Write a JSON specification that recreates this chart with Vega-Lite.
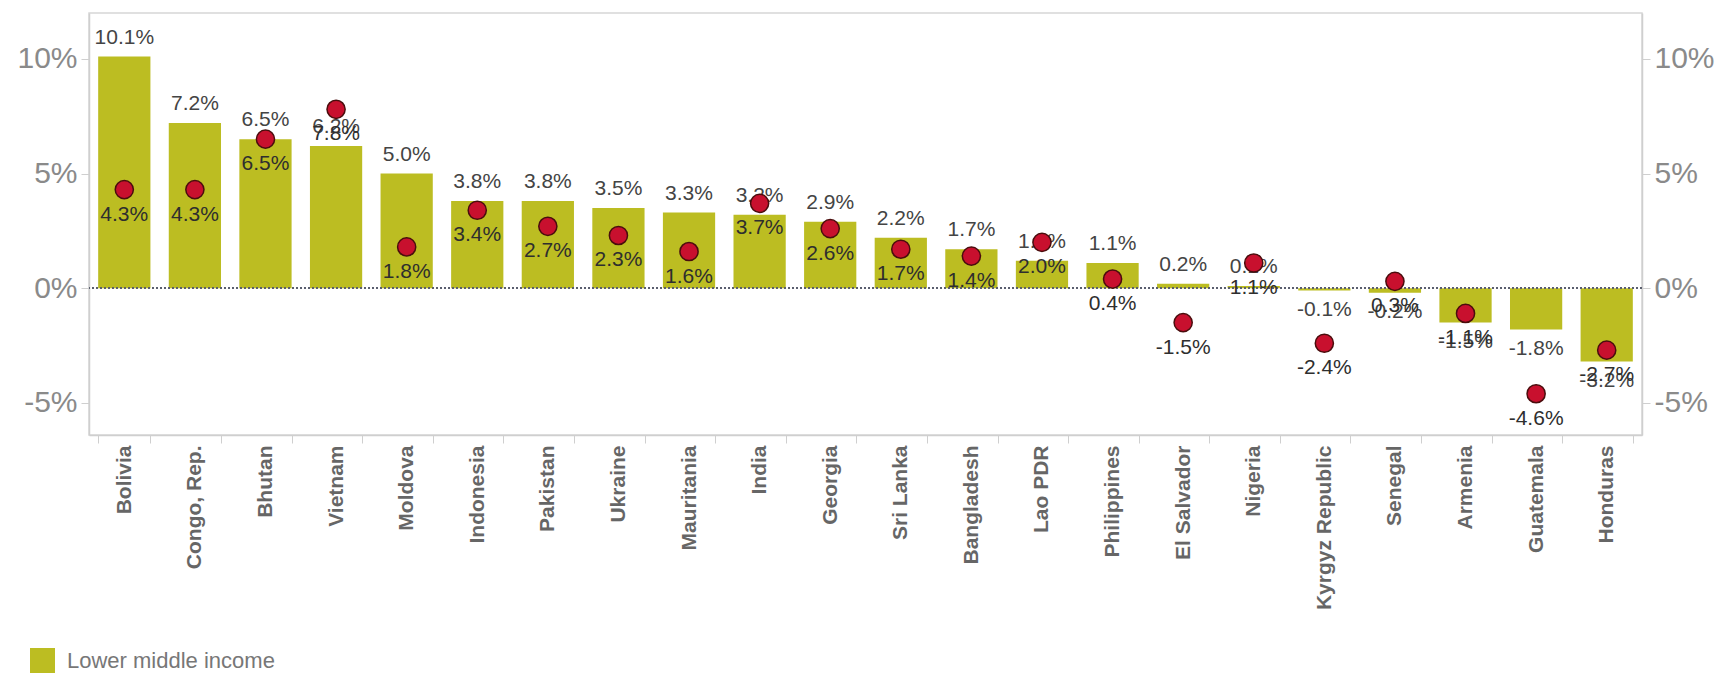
{
  "$schema": "https://vega.github.io/schema/vega-lite/v6.json",
  "width": 1553,
  "height": 422,
  "autosize": {"type": "none"},
  "padding": {"left": 89, "top": 13, "right": 82, "bottom": 239},
  "config": {
    "font": "Liberation Sans",
    "view": {"stroke": "#d6d6d6", "strokeWidth": 1.5},
    "locale": {"number": {"decimal": ".", "thousands": ",", "grouping": [3], "currency": ["$", ""], "minus": "-"}},
    "axis": {"grid": false, "title": null}
  },
  "data": {
    "values": [
      {"country": "Bolivia", "bar": 0.101, "dot": 0.043, "group": "Lower middle income"},
      {"country": "Congo, Rep.", "bar": 0.072, "dot": 0.043, "group": "Lower middle income"},
      {"country": "Bhutan", "bar": 0.065, "dot": 0.065, "group": "Lower middle income"},
      {"country": "Vietnam", "bar": 0.062, "dot": 0.078, "group": "Lower middle income"},
      {"country": "Moldova", "bar": 0.050, "dot": 0.018, "group": "Lower middle income"},
      {"country": "Indonesia", "bar": 0.038, "dot": 0.034, "group": "Lower middle income"},
      {"country": "Pakistan", "bar": 0.038, "dot": 0.027, "group": "Lower middle income"},
      {"country": "Ukraine", "bar": 0.035, "dot": 0.023, "group": "Lower middle income"},
      {"country": "Mauritania", "bar": 0.033, "dot": 0.016, "group": "Lower middle income"},
      {"country": "India", "bar": 0.032, "dot": 0.037, "group": "Lower middle income"},
      {"country": "Georgia", "bar": 0.029, "dot": 0.026, "group": "Lower middle income"},
      {"country": "Sri Lanka", "bar": 0.022, "dot": 0.017, "group": "Lower middle income"},
      {"country": "Bangladesh", "bar": 0.017, "dot": 0.014, "group": "Lower middle income"},
      {"country": "Lao PDR", "bar": 0.012, "dot": 0.020, "group": "Lower middle income"},
      {"country": "Philippines", "bar": 0.011, "dot": 0.004, "group": "Lower middle income"},
      {"country": "El Salvador", "bar": 0.002, "dot": -0.015, "group": "Lower middle income"},
      {"country": "Nigeria", "bar": 0.001, "dot": 0.011, "group": "Lower middle income"},
      {"country": "Kyrgyz Republic", "bar": -0.001, "dot": -0.024, "group": "Lower middle income"},
      {"country": "Senegal", "bar": -0.002, "dot": 0.003, "group": "Lower middle income"},
      {"country": "Armenia", "bar": -0.015, "dot": -0.011, "group": "Lower middle income"},
      {"country": "Guatemala", "bar": -0.018, "dot": -0.046, "group": "Lower middle income"},
      {"country": "Honduras", "bar": -0.032, "dot": -0.027, "group": "Lower middle income"}
    ]
  },
  "layer": [
    {
      "mark": {"type": "bar"},
      "encoding": {
        "x": {
          "field": "country", "type": "nominal", "sort": null,
          "scale": {"paddingInner": 0.26, "paddingOuter": 0.13},
          "axis": {
            "labelAngle": -90, "labelFontSize": 21, "labelFontWeight": "bold", "labelColor": "#666",
            "labelLimit": 300, "labelPadding": 2, "tickBand": "extent", "tickSize": 8,
            "tickColor": "#cfcfcf", "domainColor": "#cfcfcf", "domainWidth": 1.5
          }
        },
        "y": {
          "field": "bar", "type": "quantitative",
          "scale": {"domain": [-0.064, 0.12], "nice": false, "zero": false},
          "axis": {
            "orient": "left", "values": [-0.05, 0, 0.05, 0.1], "format": ".0%",
            "labelFontSize": 30, "labelColor": "#8a8a8a", "tickColor": "#cfcfcf", "tickSize": 8,
            "domainColor": "#cfcfcf", "domainWidth": 1.5, "labelPadding": 4
          }
        },
        "color": {
          "field": "group", "type": "nominal",
          "scale": {"range": ["#bcbd22"]},
          "legend": {
            "title": null, "orient": "none", "legendX": -59, "legendY": 635,
            "symbolType": "square", "symbolSize": 625, "symbolStrokeWidth": 0,
            "labelFontSize": 22, "labelFont": "Liberation Sans", "labelColor": "#777",
            "labelOffset": 12, "labelLimit": 500
          }
        }
      }
    },
    {
      "mark": {"type": "rule", "color": "#5a5f6e", "strokeDash": [2, 2], "strokeWidth": 1.5},
      "encoding": {
        "y": {"datum": 0, "type": "quantitative", "scale": {"domain": [-0.064, 0.12], "nice": false, "zero": false}, "axis": null}
      }
    },
    {
      "transform": [{"filter": "datum.bar >= 0"}],
      "mark": {"type": "text", "fontSize": 21, "color": "#444", "baseline": "middle", "dy": -19},
      "encoding": {
        "x": {"field": "country", "type": "nominal", "sort": null},
        "y": {"field": "bar", "type": "quantitative", "scale": {"domain": [-0.064, 0.12], "nice": false, "zero": false}, "axis": null},
        "text": {"field": "bar", "type": "quantitative", "format": ".1%"}
      }
    },
    {
      "transform": [{"filter": "datum.bar < 0"}],
      "mark": {"type": "text", "fontSize": 21, "color": "#444", "baseline": "middle", "dy": 19},
      "encoding": {
        "x": {"field": "country", "type": "nominal", "sort": null},
        "y": {"field": "bar", "type": "quantitative", "scale": {"domain": [-0.064, 0.12], "nice": false, "zero": false}, "axis": null},
        "text": {"field": "bar", "type": "quantitative", "format": ".1%"}
      }
    },
    {
      "mark": {"type": "point", "shape": "circle", "filled": true, "size": 330, "fill": "#c8102e", "stroke": "#4a0d0d", "strokeWidth": 1.5, "opacity": 1},
      "encoding": {
        "x": {"field": "country", "type": "nominal", "sort": null},
        "y": {
          "field": "dot", "type": "quantitative",
          "scale": {"domain": [-0.064, 0.12], "nice": false, "zero": false},
          "axis": {
            "orient": "right", "values": [-0.05, 0, 0.05, 0.1], "format": ".0%",
            "labelFontSize": 30, "labelColor": "#8a8a8a", "tickColor": "#cfcfcf", "tickSize": 8,
            "domainColor": "#cfcfcf", "domainWidth": 1.5, "labelPadding": 4
          }
        }
      }
    },
    {
      "mark": {"type": "text", "fontSize": 21, "color": "#2e2e2e", "baseline": "middle", "dy": 25},
      "encoding": {
        "x": {"field": "country", "type": "nominal", "sort": null},
        "y": {"field": "dot", "type": "quantitative", "scale": {"domain": [-0.064, 0.12], "nice": false, "zero": false}, "axis": null},
        "text": {"field": "dot", "type": "quantitative", "format": ".1%"}
      }
    }
  ],
  "resolve": {"axis": {"y": "independent"}}
}
